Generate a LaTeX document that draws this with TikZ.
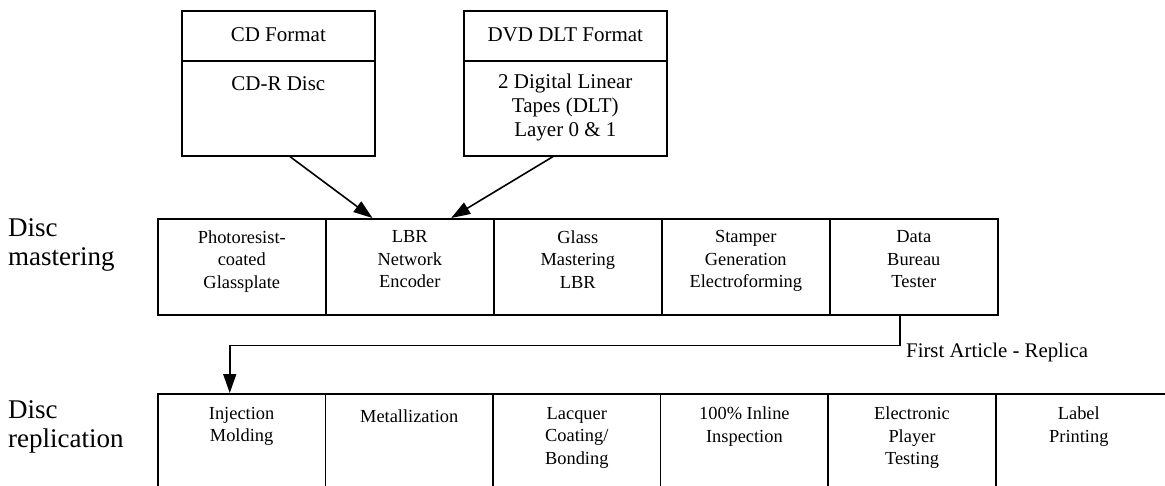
\documentclass[tikz,border=0pt]{standalone}
\usepackage{fontspec}
\setmainfont{Liberation Serif}
\usetikzlibrary{arrows.meta,calc}
\begin{document}
\begin{tikzpicture}[x=1pt,y=-1pt,
  ln/.style={line width=1.6pt},
  box/.style={draw,ln,inner sep=0pt,anchor=north west},
  mbox/.style={box,minimum width=168pt,minimum height=96pt},
  rbox/.style={box,minimum width=167.6pt,minimum height=130pt},
  mtext/.style={anchor=north,inner sep=0pt,align=center,font=\fontsize{18.4}{22.5}\selectfont,execute at begin node=\strut},
  ttext/.style={anchor=north,inner sep=0pt,align=center,font=\fontsize{21}{24}\selectfont,execute at begin node=\strut},
  lbl/.style={anchor=north west,inner sep=0pt,align=left,font=\fontsize{27}{28.5}\selectfont,execute at begin node=\strut},
  arr/.style={ln,-{Triangle[length=19pt,width=13pt]}}
]
\useasboundingbox (0,0) rectangle (1165,486);
\clip (0,0) rectangle (1165,486);

% top boxes
\node[box,minimum width=193pt,minimum height=50pt] (cdh) at (181,10) {};
\node[box,minimum width=193pt,minimum height=95pt] (cdb) at (181,60) {};
\node[box,minimum width=203pt,minimum height=50pt] (dvh) at (463,10) {};
\node[box,minimum width=203pt,minimum height=95pt] (dvb) at (463,60) {};
\node[ttext] (cdht) at ($(cdh.north)+(0,14.9)$) {CD Format};
\node[ttext] (cdbt) at ($(cdb.north)+(0,13.5)$) {CD-R Disc};
\node[ttext] (dvht) at ($(dvh.north)+(0,14.9)$) {DVD DLT Format};
\node[ttext] (dvbt) at ($(dvb.north)+(0,13.8)$) {2 Digital Linear\\Tapes (DLT)\\Layer 0 \& 1};

% mastering row
\node[mbox] (m1) at (157,218) {};
\node[mbox] (m2) at (325,218) {};
\node[mbox] (m3) at (493,218) {};
\node[mbox] (m4) at (661,218) {};
\node[mbox] (m5) at (829,218) {};
\node[mtext] (m1t) at ($(m1.north)+(0,12.4)$) {Photoresist-\\coated\\Glassplate};
\node[mtext] (m2t) at ($(m2.north)+(0,12.4)$) {LBR\\Network\\Encoder};
\node[mtext] (m3t) at ($(m3.north)+(0,12.4)$) {Glass\\Mastering\\LBR};
\node[mtext] (m4t) at ($(m4.north)+(0,12.4)$) {Stamper\\Generation\\Electroforming};
\node[mtext] (m5t) at ($(m5.north)+(0,12.4)$) {Data\\Bureau\\Tester};

% replication row
\node[rbox] (r1) at (157,393) {};
\node[rbox] (r2) at (324.6,393) {};
\node[rbox] (r3) at (492.2,393) {};
\node[rbox] (r4) at (659.8,393) {};
\node[rbox] (r5) at (827.4,393) {};
\node[box,minimum width=185pt,minimum height=130pt] (r6) at (995,393) {};
\node[mtext] (r1t) at ($(r1.north)+(0,14)$) {Injection\\Molding};
\node[mtext] (r2t) at ($(r2.north)+(0,14)$) {Metallization};
\node[mtext] (r3t) at ($(r3.north)+(0,14)$) {Lacquer\\Coating/\\Bonding};
\node[mtext] (r4t) at ($(r4.north)+(0,14)$) {100\% Inline\\Inspection};
\node[mtext] (r5t) at ($(r5.north)+(0,14)$) {Electronic\\Player\\Testing};
\node[mtext] (r6t) at ($(r6.north west)+(83.8,14)$) {Label\\Printing};

% side labels
\node[lbl] (dm) at (8,218.5) {Disc\\mastering};
\node[lbl] (dr) at (8,400.5) {Disc\\replication};

% connectors
\draw[arr] ($(cdb.south west)!0.56!(cdb.south east)$) -- ($(m2.north west)!0.28!(m2.north east)$);
\draw[arr] ($(dvb.south west)!0.44!(dvb.south east)$) -- ($(m2.north west)!0.744!(m2.north east)$);
\coordinate (bend) at ($(m5.south west)!0.42!(m5.south east)+(0,30)$);
\draw[arr] ($(m5.south west)!0.42!(m5.south east)$) -- (bend) -| ($(r1.north west)!0.43!(r1.north east)$);
\node[anchor=base west,inner sep=0pt,font=\fontsize{20.8}{24}\selectfont] (fa) at (906,358) {First Article - Replica};
\end{tikzpicture}
\end{document}
